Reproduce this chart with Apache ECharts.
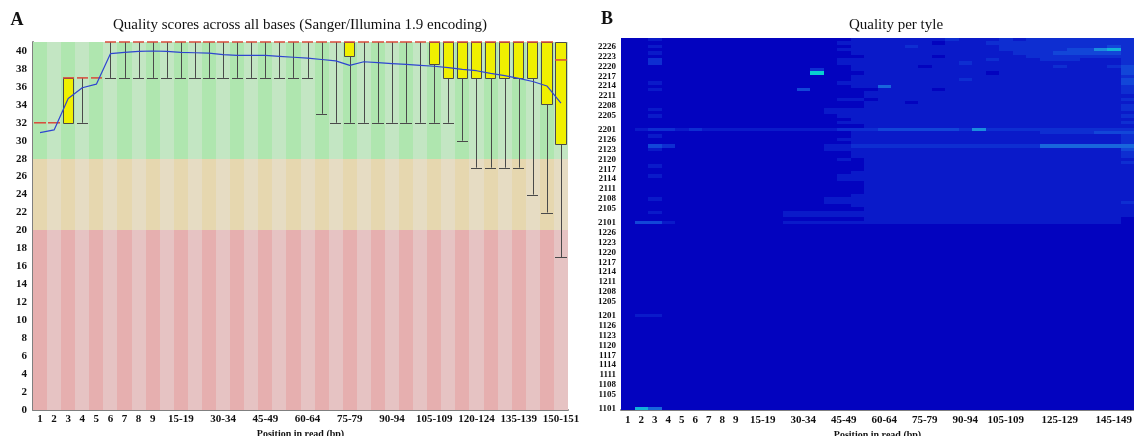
<!DOCTYPE html>
<html><head><meta charset="utf-8">
<script src="https://cdn.jsdelivr.net/npm/echarts@6/dist/echarts.min.js"></script>
<style>html,body{margin:0;padding:0;background:#fff}#c{width:1134px;height:436px}</style>
</head><body><div id="c"></div>
<script>
// ---------- data ----------
const positions = ['1','2','3','4','5','6','7','8','9','10-14','15-19','20-24','25-29','30-34','35-39','40-44','45-49','50-54','55-59','60-64','65-69','70-74','75-79','80-84','85-89','90-94','95-99','100-104','105-109','110-114','115-119','120-124','125-129','130-134','135-139','140-144','145-149','150-151'];
const boxXLabels = ['1','2','3','4','5','6','7','8','9','15-19','30-34','45-49','60-64','75-79','90-94','105-109','120-124','135-139','150-151'];
const heatXLabels = ['1','2','3','4','5','6','7','8','9','15-19','30-34','45-49','60-64','75-79','90-94','105-109','125-129','145-149'];

const meanQ = [30.9,31.2,34.7,35.9,36.3,39.7,39.85,39.95,40.0,39.95,39.85,39.8,39.75,39.6,39.5,39.5,39.5,39.4,39.3,39.2,39.05,38.9,38.4,38.8,38.7,38.6,38.5,38.4,38.3,38.15,37.95,37.8,37.5,37.25,36.95,36.6,36.1,34.2];
const p10Q   = [32,32,32,32,37,37,37,37,37,37,37,37,37,37,37,37,37,37,37,37,33,32,32,32,32,32,32,32,32,32,30,27,27,27,27,24,22,17];
const q1Q    = [32,32,32,37,37,41,41,41,41,41,41,41,41,41,41,41,41,41,41,41,41,41,39.4,41,41,41,41,41,38.6,37,37,37,37,37,37,37,34.1,29.6];
const medianQ= [32,32,37,37,37,41,41,41,41,41,41,41,41,41,41,41,41,41,41,41,41,41,41,41,41,41,41,41,41,41,41,41,41,41,41,41,41,39];
const q3Q    = [32,32,37,37,37,41,41,41,41,41,41,41,41,41,41,41,41,41,41,41,41,41,41,41,41,41,41,41,41,41,41,41,41,41,41,41,41,41];
const p90Q   = [32,32,37,37,37,41,41,41,41,41,41,41,41,41,41,41,41,41,41,41,41,41,41,41,41,41,41,41,41,41,41,41,41,41,41,41,41,41];
const zoneBounds = [0, 20, 28, 41];

const tileSurfaces = ['11','12','21','22'];
const tilesPerSwath = 28;
const tileTickLabels = ['1101','1105','1108','1111','1114','1117','1120','1123','1126','1201','1205','1208','1211','1214','1217','1220','1223','1226','2101','2105','2108','2111','2114','2117','2120','2123','2126','2201','2205','2208','2211','2214','2217','2220','2223','2226'];

// per-tile quality deviation level (one digit per position); tiles not listed read as 0
const tileHeat = {
 '2228':'001000000 0000000011 1111121112 122222222',
 '2227':'000000000 0000000111 1111011122 222222222',
 '2226':'001000000 0000000011 1121111112 222222232',
 '2225':'000000000 0000000111 1111111112 222233562',
 '2224':'001000000 0000000011 1111111111 222333332',
 '2223':'000000000 0000000001 1111011111 122222222',
 '2222':'002000000 0000000111 1111111121 112221112',
 '2221':'002000000 0000000111 1111112111 111111112',
 '2220':'000000000 0000000011 1110111111 111211123',
 '2219':'000000000 0000020011 1111111111 111111113',
 '2218':'000000000 0000070001 1111111101 111111113',
 '2217':'000000000 0000000011 1111111111 111111112',
 '2216':'000000000 0000000011 1111112111 111111113',
 '2215':'001000000 0000000111 1111111111 111111113',
 '2214':'000000000 0000000011 4111111111 111111112',
 '2213':'001000000 0000300000 1111011111 111111112',
 '2212':'000000000 0000000001 1111111111 111111112',
 '2211':'000000000 0000000001 1111111111 111111111',
 '2210':'000000000 0000000110 1111111111 111111112',
 '2209':'000000000 0000000001 1101111111 111111111',
 '2208':'000000000 0000000001 1111111111 111111112',
 '2207':'001000000 0000001111 1111111111 111111112',
 '2206':'000000000 0000001111 1111111111 111111111',
 '2205':'001000000 0000000111 1111111111 111111112',
 '2204':'000000000 0000000011 1111111111 111111111',
 '2203':'000000000 0000000111 1111111111 111111112',
 '2202':'000000000 0000000001 1111111111 111111111',
 '2201':'012212111 1111111222 3333332522 222222222',
 '2128':'000000000 0000000011 1111111111 112222333',
 '2127':'001000000 0000000011 1111111111 111111112',
 '2126':'000000000 0000000111 1111111111 111111112',
 '2125':'000000000 0000000011 1111111111 111111112',
 '2124':'003200000 0000001122 2222222222 224444444',
 '2123':'001000000 0000001111 1111111111 111111113',
 '2122':'000000000 0000000011 1111111111 111111112',
 '2121':'000000000 0000000011 1111111111 111111112',
 '2120':'000000000 0000000101 1111111111 111111111',
 '2119':'000000000 0000000001 1111111111 111111112',
 '2118':'001000000 0000000001 1111111111 111111111',
 '2117':'000000000 0000000001 1111111111 111111111',
 '2116':'000000000 0000000011 1111111111 111111111',
 '2115':'001000000 0000000111 1111111111 111111111',
 '2114':'000000000 0000000111 1111111111 111111111',
 '2113':'000000000 0000000001 1111111111 111111111',
 '2112':'000000000 0000000001 1111111111 111111111',
 '2111':'000000000 0000000001 1111111111 111111111',
 '2110':'000000000 0000000001 1111111111 111111111',
 '2109':'000000000 0000000011 1111111111 111111111',
 '2108':'001000000 0000001111 1111111111 111111111',
 '2107':'000000000 0000001111 1111111111 111111112',
 '2106':'000000000 0000000011 1111111111 111111111',
 '2105':'000000000 0000000001 1111111111 111111111',
 '2104':'001000000 0001111111 1111111111 111111111',
 '2103':'000000000 0001111111 1111111111 111111111',
 '2102':'000000000 0000000001 1111111111 111111110',
 '2101':'033100000 0001111111 1111111111 111111110',
 '1201':'011000000 0000000000 0000000000 000000000',
 '1101':'064000000 0000000000 0000000000 000000000'
};

// ---------- styles ----------
const zoneColors = [['#e6afaf','#e6c3c3'],['#e6d7af','#e6dcc3'],['#afe6af','#c3e6c3']];
const heatColors = ['#0303bf','#0a1ac9','#0e2ed1','#1246d8','#1866dc','#1a8cde','#12b0da','#08cfd0','#40e8a0','#90ff60'];
const serif = '"Liberation Serif", "Times New Roman", serif';

// ---------- build ----------
const tiles = [];
tileSurfaces.forEach(s => { for (let n = 1; n <= tilesPerSwath; n++) tiles.push(s + String(n).padStart(2, '0')); });
const heatData = [];
tiles.forEach((t, yi) => {
  const row = (tileHeat[t] || '').replace(/\s/g, '');
  positions.forEach((p, xi) => heatData.push([xi, yi, row ? Number(row[xi]) : 0]));
});
const boxData = positions.map((p, i) => [i, p10Q[i], q1Q[i], medianQ[i], q3Q[i], p90Q[i]]);

const chart = echarts.init(document.getElementById('c'), null, { renderer: 'canvas' });
const crisp = v => Math.round(v) + 0.5;

chart.setOption({
  animation: false,
  backgroundColor: '#ffffff',
  grid: [
    { left: 33, right: 566, top: 42, bottom: 26, containLabel: false, outerBoundsMode: 'none' },
    { left: 621, right: 0, top: 38, bottom: 26, containLabel: false, outerBoundsMode: 'none' }
  ],
  graphic: [
    { type: 'text', x: 17, y: 20, style: { text: 'A', font: 'bold 18px ' + serif, fill: '#111', textAlign: 'center', textVerticalAlign: 'middle', align: 'center', verticalAlign: 'middle' } },
    { type: 'text', x: 607, y: 19, style: { text: 'B', font: 'bold 18px ' + serif, fill: '#111', textAlign: 'center', textVerticalAlign: 'middle', align: 'center', verticalAlign: 'middle' } },
    { type: 'text', x: 300, y: 25, style: { text: 'Quality scores across all bases (Sanger/Illumina 1.9 encoding)', font: '15px ' + serif, fill: '#111', textAlign: 'center', textVerticalAlign: 'middle', align: 'center', verticalAlign: 'middle' } },
    { type: 'text', x: 896, y: 25, style: { text: 'Quality per tyle', font: '15px ' + serif, fill: '#111', textAlign: 'center', textVerticalAlign: 'middle', align: 'center', verticalAlign: 'middle' } }
  ],
  xAxis: [
    { type: 'category', gridIndex: 0, data: positions, boundaryGap: true,
      axisLine: { lineStyle: { color: '#808080', width: 2 } }, axisTick: { show: false }, splitLine: { show: false },
      axisLabel: { interval: (i, v) => boxXLabels.indexOf(v) >= 0, fontFamily: serif, fontWeight: 'bold', fontSize: 11, color: '#111', margin: 4 },
      name: 'Position in read (bp)', nameLocation: 'middle', nameGap: 16,
      nameTextStyle: { fontFamily: serif, fontWeight: 'bold', fontSize: 10, color: '#111' } },
    { type: 'category', gridIndex: 1, data: positions, boundaryGap: true,
      axisLine: { lineStyle: { color: '#808080', width: 2 } }, axisTick: { show: false }, splitLine: { show: false },
      axisLabel: { interval: (i, v) => heatXLabels.indexOf(v) >= 0, fontFamily: serif, fontWeight: 'bold', fontSize: 11, color: '#111', margin: 5 },
      name: 'Position in read (bp)', nameLocation: 'middle', nameGap: 17,
      nameTextStyle: { fontFamily: serif, fontWeight: 'bold', fontSize: 10, color: '#111' } }
  ],
  yAxis: [
    { type: 'value', gridIndex: 0, min: 0, max: 41, interval: 2,
      axisLine: { show: true, lineStyle: { color: '#808080', width: 2 } }, axisTick: { show: false }, splitLine: { show: false },
      axisLabel: { showMaxLabel: false, formatter: v => (v % 2 === 0 ? String(v) : ''), fontFamily: serif, fontWeight: 'bold', fontSize: 11, color: '#111', margin: 6 } },
    { type: 'category', gridIndex: 1, data: tiles, boundaryGap: true,
      axisLine: { show: false }, axisTick: { show: false }, splitLine: { show: false },
      axisLabel: { interval: (i, v) => tileTickLabels.indexOf(v) >= 0, fontFamily: serif, fontWeight: 'bold', fontSize: 9, color: '#111', margin: 5 } }
  ],
  visualMap: { show: false, type: 'continuous', min: 0, max: 9, seriesIndex: 3, dimension: 2, inRange: { color: heatColors } },
  series: [
    { type: 'custom', xAxisIndex: 0, yAxisIndex: 0, silent: true, z: 1,
      data: positions.map((p, i) => [i]),
      renderItem(params, api) {
        const i = api.value(0);
        const w = api.size([1, 0])[0];
        const c = api.coord([i, 0])[0];
        const x0 = Math.round(c - w / 2), x1 = Math.round(c + w / 2);
        const children = [];
        for (let k = 0; k < zoneBounds.length - 1; k++) {
          const yb = Math.round(api.coord([i, zoneBounds[k]])[1]);
          const yt = Math.round(api.coord([i, zoneBounds[k + 1]])[1]);
          children.push({ type: 'rect', shape: { x: x0, y: yt, width: x1 - x0, height: yb - yt }, style: { fill: zoneColors[k][i % 2] } });
        }
        return { type: 'group', children };
      } },
    { type: 'custom', xAxisIndex: 0, yAxisIndex: 0, silent: true, z: 3,
      data: boxData,
      renderItem(params, api) {
        const i = api.value(0);
        const lo = api.value(1), q1 = api.value(2), med = api.value(3), q3 = api.value(4), hi = api.value(5);
        const bw = api.size([1, 0])[0] * 0.8;
        const cx = api.coord([i, 0])[0];
        const y = v => api.coord([i, v])[1];
        const xl = Math.round(cx - bw / 2), xr = Math.round(cx + bw / 2), xc = crisp(cx);
        const ws = { stroke: '#4a4a4a', lineWidth: 1, fill: null };
        const ch = [];
        if (lo < q1) {
          ch.push({ type: 'line', shape: { x1: xc, y1: y(lo), x2: xc, y2: y(q1) }, style: ws });
          ch.push({ type: 'line', shape: { x1: xl, y1: crisp(y(lo)), x2: xr, y2: crisp(y(lo)) }, style: ws });
        }
        if (hi > q3) {
          ch.push({ type: 'line', shape: { x1: xc, y1: y(hi), x2: xc, y2: y(q3) }, style: ws });
          ch.push({ type: 'line', shape: { x1: xl, y1: crisp(y(hi)), x2: xr, y2: crisp(y(hi)) }, style: ws });
        }
        if (q3 > q1) {
          const yt = crisp(y(q3)), yb = crisp(y(q1));
          ch.push({ type: 'rect', shape: { x: xl + 0.5, y: yt, width: xr - xl - 1, height: yb - yt }, style: { fill: '#f0f000', stroke: '#4a4a4a', lineWidth: 1 } });
        }
        ch.push({ type: 'line', shape: { x1: xl, y1: y(med), x2: xr, y2: y(med) }, style: { stroke: '#d84a3a', lineWidth: 1.5 } });
        return { type: 'group', children: ch };
      } },
    { type: 'line', xAxisIndex: 0, yAxisIndex: 0, data: meanQ, symbol: 'none', silent: true, z: 4,
      lineStyle: { color: '#2f45d0', width: 1.2 } },
    { type: 'custom', xAxisIndex: 1, yAxisIndex: 1, data: heatData, silent: true, z: 2,
      encode: { x: 0, y: 1 },
      renderItem(params, api) {
        const xi = api.value(0), yi = api.value(1);
        const a = api.coord([xi, yi]);
        const s = api.size([1, 1]);
        const x0 = Math.round(a[0] - s[0] / 2), x1 = Math.round(a[0] + s[0] / 2);
        const y0 = Math.round(a[1] - s[1] / 2), y1 = Math.round(a[1] + s[1] / 2);
        return { type: 'rect', shape: { x: x0, y: y0, width: x1 - x0, height: y1 - y0 }, style: { fill: api.visual('color') } };
      } }
  ]
});
</script>
</body></html>
